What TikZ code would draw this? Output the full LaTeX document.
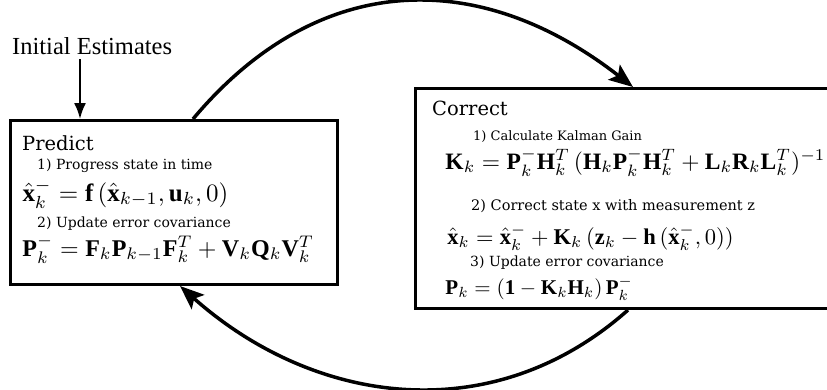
\documentclass[tikz,border=0pt]{standalone}
\usepackage{fontspec}
\usepackage{amsmath}
\setmainfont{Liberation Serif}
\newfontfamily\boxfont{DejaVu Serif}
\usetikzlibrary{arrows.meta,calc}
\tikzset{
  panel/.style={draw, line width=3pt, inner sep=0pt, anchor=north west},
  ttl/.style={anchor=base west, inner sep=0pt, font=\boxfont\fontsize{19.5}{22}\selectfont},
  sub/.style={anchor=base west, inner sep=0pt, font=\boxfont\fontsize{#1}{16}\selectfont},
  eqn/.style={anchor=base west, inner sep=0pt, scale=#1},
  cyc/.style={line width=3.5pt, -{Stealth[length=24pt, width=19pt, inset=5pt]}},
  initarrow/.style={line width=2pt, -{Latex[length=16pt, width=12pt]}}
}
\begin{document}
\begin{tikzpicture}[x=1pt,y=-1pt]
\useasboundingbox (0,0) rectangle (827,389);
\clip (0,0) rectangle (827,389);

% boxes
\node[panel, minimum width=327pt, minimum height=164pt] (pred) at (9,119) {};
\node[panel, minimum width=500pt, minimum height=220pt] (corr) at (414,87) {};

% initial estimates
\node[anchor=base west, inner sep=0pt, font=\fontsize{24.5}{28}\selectfont] (init) at (12,54) {Initial Estimates};
\coordinate (initS) at (80,59);
\draw[initarrow] (initS) -- (initS |- pred.north);

% predict content
\node[ttl] (ptitle) at (22,150) {Predict};
\node[sub=14] (pl1) at (37,169) {1) Progress state in time};
\node[eqn=2.5] (peq1) at (22,201) {$\hat{\mathbf{x}}_k^- = \mathbf{f}\,(\hat{\mathbf{x}}_{k-1},\mathbf{u}_k,0)$};
\node[sub=14] (pl2) at (37,227) {2) Update error covariance};
\node[eqn=2.4] (peq2) at (22,256) {$\mathbf{P}_k^- = \mathbf{F}_k\mathbf{P}_{k-1}\mathbf{F}_k^T + \mathbf{V}_k\mathbf{Q}_k\mathbf{V}_k^T$};

% correct content
\node[ttl] (ctitle) at (432,115) {Correct};
\node[sub=13] (cl1) at (473,140) {1) Calculate Kalman Gain};
\node[eqn=2.35] (ceq1) at (445,169) {$\mathbf{K}_k = \mathbf{P}_k^-\mathbf{H}_k^T\,(\mathbf{H}_k\mathbf{P}_k^-\mathbf{H}_k^T + \mathbf{L}_k\mathbf{R}_k\mathbf{L}_k^T)^{-1}$};
\node[sub=14.5] (cl2) at (471,210) {2) Correct state x with measurement z};
\node[eqn=2.25] (ceq2) at (447,244) {$\hat{\mathbf{x}}_k = \hat{\mathbf{x}}_k^- + \mathbf{K}_k\,(\mathbf{z}_k - \mathbf{h}\,(\hat{\mathbf{x}}_k^-,0))$};
\node[sub=14] (cl3) at (470,266) {3) Update error covariance};
\node[eqn=2.1] (ceq3) at (445,294) {$\mathbf{P}_k = (\mathbf{1} - \mathbf{K}_k\mathbf{H}_k)\,\mathbf{P}_k^-$};

% cycle arrows
\coordinate (upS) at ([xshift=184pt]pred.north west);
\coordinate (upE) at ([xshift=219pt]corr.north west);
\coordinate (loS) at ([xshift=214pt]corr.south west);
\coordinate (loE) at ([xshift=171pt]pred.south west);
\draw[cyc] (upS) .. controls (318,-30) and (479,-33) .. (upE);
\draw[cyc] (loS) .. controls (493,430) and (315,406) .. (loE);
\end{tikzpicture}
\end{document}
